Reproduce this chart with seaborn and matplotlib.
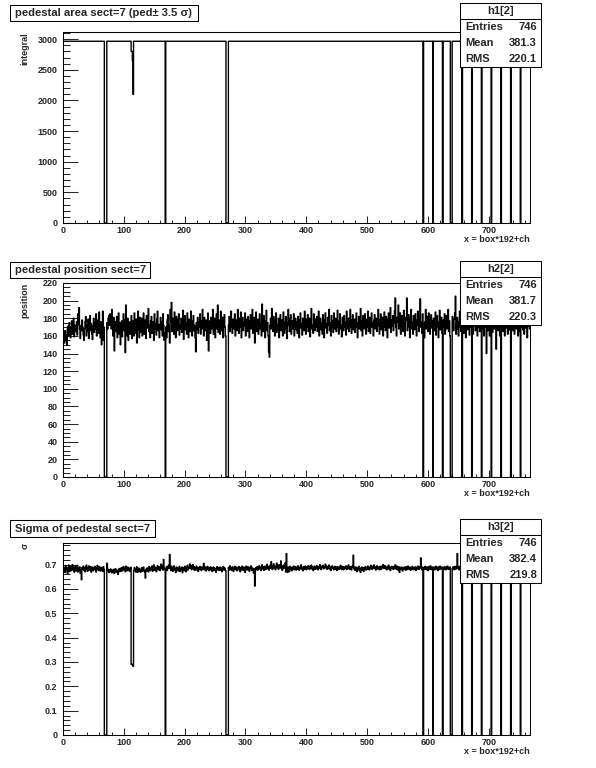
import matplotlib
matplotlib.use("Agg")
import matplotlib.pyplot as plt
from matplotlib.patches import Rectangle
from matplotlib.lines import Line2D
from matplotlib.ticker import MultipleLocator, FuncFormatter
import numpy as np
import pandas as pd
import seaborn as sns

# ---- data -------------------------------------------------------------
n_bins = 768
dead_bins = [68, 69, 70, 71, 168, 268, 269, 270, 271, 592, 608, 624,
             637, 638, 639, 656, 672, 688, 704, 720, 736, 752]

# integral: flat level, with a dip at channels 112-115
area_level = 2967
area_dip_bins = [112, 113, 114, 115]
area_dip_vals = [2800, 2800, 2650, 2100]

position = [
    158,163,152,166,155,161,150,168,171,160,175,164,158,170,177,162,
    168,180,159,172,165,170,176,161,185,173,192,168,157,172,166,178,
    170,161,155,168,176,182,160,172,165,179,157,170,183,166,174,162,
    156,171,180,164,175,168,185,160,172,178,163,187,170,158,176,150,
    165,188,155,170,0,0,0,0,175,168,180,183,172,185,177,168,
    190,174,160,181,143,170,176,165,182,158,171,186,162,175,150,168,
    177,159,173,185,166,178,141,195,172,160,180,155,169,176,162,171,
    183,157,168,177,160,186,174,163,179,152,170,188,167,158,181,164,
    172,180,160,175,186,162,170,178,157,183,169,174,191,165,172,158,
    177,182,163,171,176,155,185,168,174,161,179,188,166,173,158,170,
    181,167,176,160,185,172,155,163,0,170,158,178,184,165,173,152,
    190,176,198,165,180,171,162,187,175,158,182,170,166,179,185,161,
    172,168,180,164,177,189,156,172,183,167,175,162,186,170,158,179,
    174,165,188,171,160,177,183,166,172,158,142,175,168,181,163,176,
    170,185,162,177,168,190,172,160,181,174,166,178,155,172,186,143,
    170,177,163,181,168,175,190,162,172,180,158,174,185,168,195,164,
    178,170,162,188,173,166,181,158,176,184,170,160,0,0,0,0,
    172,182,165,176,188,170,163,179,174,168,185,160,172,178,166,190,
    175,163,180,170,187,158,174,181,166,176,171,186,160,173,179,165,
    182,170,158,177,184,168,172,190,163,176,181,152,170,187,165,174,
    179,162,171,185,168,174,160,196,172,165,183,170,158,177,189,166,
    175,160,142,136,172,180,168,191,174,165,182,170,160,178,186,164,
    173,168,180,158,175,184,166,171,178,160,187,170,163,176,182,168,
    157,175,190,172,165,179,184,162,170,177,168,185,160,174,180,167,
    176,163,182,170,158,178,186,169,174,161,180,172,166,188,175,162,
    179,170,184,165,173,180,159,176,191,168,172,163,185,174,166,179,
    170,182,165,176,188,160,173,180,167,175,162,184,171,158,178,186,
    169,174,163,181,172,190,166,175,160,183,170,177,164,186,173,168,
    180,165,174,189,170,162,177,185,168,172,159,181,175,166,183,170,
    176,161,188,173,168,180,165,174,190,170,163,178,184,167,172,179,
    164,176,186,170,158,175,182,168,174,191,166,177,160,183,172,168,
    185,174,162,179,170,188,165,176,181,163,172,186,170,175,160,178,
    184,168,173,180,165,176,190,171,162,178,185,167,174,181,160,175,
    187,170,166,182,173,158,179,186,169,175,192,164,178,171,183,166,
    175,188,203,170,160,181,176,195,168,174,186,162,177,183,170,165,
    189,174,160,181,178,203,166,175,184,170,158,179,190,168,176,162,
    183,171,167,185,174,160,178,188,172,165,180,202,170,176,163,185,
    0,174,158,176,190,168,182,170,165,186,173,162,178,184,169,177,
    0,180,166,175,187,161,172,183,170,158,176,189,167,174,181,163,
    0,178,170,185,162,176,183,168,172,190,165,177,160,0,0,0,
    182,171,166,179,186,205,162,174,181,168,160,176,188,170,165,178,
    0,172,184,163,176,170,158,181,175,167,186,172,161,178,170,183,
    0,175,162,180,171,185,166,174,188,160,177,170,182,165,173,179,
    0,168,181,172,160,176,185,170,140,178,166,183,172,160,175,180,
    0,172,164,181,176,168,185,171,145,177,182,166,173,179,160,184,
    0,170,178,165,183,172,160,176,186,169,175,162,180,171,167,178,
    0,174,181,166,173,185,162,177,170,168,183,175,160,179,172,165,
    0,178,170,184,167,175,162,180,173,169,185,158,176,171,180,168,
]

sigma = [
    .690,.672,.685,.668,.695,.676,.688,.663,.680,.698,.671,.686,.692,.675,.683,.700,
    .678,.690,.669,.684,.693,.674,.681,.697,.670,.687,.679,.691,.665,.676,.638,.688,
    .682,.694,.676,.687,.671,.690,.698,.680,.673,.688,.695,.677,.684,.692,.669,.681,
    .690,.675,.686,.679,.693,.684,.670,.688,.697,.681,.676,.692,.685,.674,.689,.678,
    .685,.672,.692,.680,0,0,0,0,.706,.683,.675,.668,.679,.671,.682,.674,
    .666,.677,.670,.681,.664,.675,.683,.669,.678,.672,.660,.676,.684,.671,.679,.686,
    .673,.688,.680,.692,.677,.685,.671,.694,.682,.675,.690,.679,.686,.673,.681,.689,
    .290,.289,.291,.282,.676,.688,.679,.670,.684,.691,.668,.677,.686,.673,.681,.669,
    .678,.687,.672,.683,.690,.676,.669,.645,.681,.674,.686,.679,.670,.692,.684,.675,
    .688,.680,.694,.673,.685,.699,.677,.690,.682,.671,.687,.696,.679,.684,.691,.676,
    .689,.702,.683,.695,.678,.721,.688,.680,0,.684,.692,.676,.690,.698,.685,.742,
    .689,.676,.694,.681,.672,.687,.695,.678,.684,.668,.690,.677,.686,.674,.681,.693,
    .672,.684,.679,.690,.667,.682,.688,.675,.693,.680,.671,.686,.697,.678,.684,.690,
    .703,.685,.696,.679,.688,.700,.683,.692,.676,.687,.681,.694,.678,.686,.672,.689,
    .680,.693,.684,.676,.690,.682,.688,.705,.679,.691,.684,.674,.686,.693,.680,.688,
    .675,.684,.691,.679,.687,.672,.683,.690,.677,.686,.681,.669,.684,.692,.678,.688,
    .683,.676,.690,.679,.686,.671,.684,.692,.678,.688,.683,.675,0,0,0,0,
    .689,.678,.695,.683,.687,.676,.691,.681,.672,.686,.693,.679,.684,.690,.675,.687,
    .680,.692,.683,.671,.688,.679,.694,.685,.676,.690,.682,.668,.687,.694,.678,.685,
    .691,.680,.673,.689,.684,.695,.676,.686,.679,.666,.683,.612,.674,.688,.681,.692,
    .678,.687,.695,.683,.690,.676,.688,.699,.682,.691,.677,.686,.694,.680,.689,.701,
    .684,.693,.678,.690,.697,.685,.712,.688,.680,.694,.703,.686,.691,.679,.695,.706,
    .687,.698,.681,.692,.700,.686,.715,.690,.677,.695,.684,.699,.688,.706,.670,.745,
    .676,.668,.690,.684,.672,.693,.681,.687,.675,.690,.683,.694,.679,.686,.692,.678,
    .688,.681,.695,.686,.677,.690,.684,.699,.682,.688,.675,.692,.686,.681,.694,.687,
    .679,.691,.684,.696,.688,.680,.693,.685,.698,.682,.690,.676,.687,.694,.681,.689,
    .683,.696,.688,.679,.692,.685,.700,.687,.680,.694,.689,.697,.683,.690,.686,.702,
    .688,.694,.681,.690,.685,.698,.682,.691,.676,.688,.695,.684,.690,.679,.687,.693,
    .681,.689,.676,.692,.685,.681,.690,.683,.697,.686,.680,.693,.688,.679,.691,.684,
    .687,.695,.680,.690,.684,.699,.686,.681,.692,.688,.678,.694,.690,.739,.683,.689,
    .676,.690,.684,.671,.687,.680,.693,.675,.686,.668,.681,.690,.677,.685,.672,.688,
    .683,.692,.678,.687,.681,.694,.685,.679,.690,.683,.697,.688,.681,.693,.686,.699,
    .684,.691,.678,.688,.695,.682,.690,.686,.679,.693,.687,.681,.694,.688,.700,.685,
    .690,.696,.683,.689,.679,.692,.686,.698,.681,.690,.676,.687,.693,.684,.689,.680,
    .692,.685,.699,.688,.681,.694,.687,.676,.691,.668,.685,.680,.690,.683,.674,.688,
    .681,.690,.685,.677,.692,.686,.680,.694,.688,.682,.690,.676,.687,.681,.693,.685,
    .679,.688,.683,.691,.676,.687,.682,.694,.685,.680,.692,.688,.728,.684,.679,.690,
    0,.686,.681,.693,.688,.679,.690,.684,.676,.692,.687,.681,.695,.686,.680,.690,
    0,.684,.690,.679,.687,.693,.682,.688,.676,.691,.685,.680,.694,.687,.683,.690,
    0,.688,.680,.692,.685,.679,.690,.686,.694,.681,.688,.683,.690,0,0,0,
    .684,.691,.686,.679,.693,.688,.682,.690,.745,.685,.692,.679,.688,.694,.686,.681,
    0,.690,.684,.693,.687,.680,.692,.686,.679,.691,.688,.682,.694,.685,.690,.683,
    0,.687,.692,.680,.689,.684,.693,.686,.679,.690,.685,.692,.681,.688,.694,.686,
    0,.691,.685,.680,.693,.687,.682,.690,.686,.679,.692,.688,.684,.690,.681,.687,
    0,.686,.692,.681,.688,.694,.683,.689,.685,.680,.691,.687,.693,.682,.688,.690,
    0,.689,.683,.692,.686,.680,.694,.687,.681,.690,.685,.693,.688,.682,.690,.686,
    0,.684,.691,.686,.680,.693,.687,.682,.690,.685,.692,.688,.681,.694,.686,.689,
    0,.690,.685,.681,.692,.687,.683,.691,.686,.680,.693,.688,.684,.690,.686,.682,
]

titles = ["pedestal area sect=7 (ped\u00b1 3.5 \u03c3)",
          "pedestal position sect=7",
          "Sigma of pedestal sect=7"]
ylabels = ["integral", "position", "\u03c3"]
hist_names = ["h1[2]", "h2[2]", "h3[2]"]
entries = [746, 746, 746]
means = [381.3, 381.7, 382.4]
rms = [220.1, 220.3, 219.8]
xlabel = "x = box*192+ch"

# ---- build arrays -------------------------------------------------------
area = np.full(n_bins, float(area_level))
area[area_dip_bins] = area_dip_vals
area[dead_bins] = 0
pos = np.array(position, dtype=float)
pos[dead_bins] = 0
sig = np.array(sigma, dtype=float)
sig[dead_bins] = 0

df = pd.DataFrame({"ch": np.arange(n_bins) + 0.5, "area": area,
                   "pos": pos, "sig": sig})
columns = ["area", "pos", "sig"]

# ---- style -------------------------------------------------------------
sns.set_style("ticks")
plt.rcParams["font.family"] = ["Liberation Sans", "DejaVu Sans"]
plt.rcParams["font.weight"] = "bold"

W, H = 596, 768
fig = plt.figure(figsize=(W / 100, H / 100), dpi=100)
fig.patch.set_facecolor("white")


def fx(x):
    return x / W


def fy(y):
    return 1 - y / H


ax_left, ax_right = 63, 530
ax_rows = [(32, 223), (283, 477), (543, 735)]
ymaxes = [3118, 220, 0.789]
ymajor = [500, 20, 0.1]
yminor = [100, 5, 0.02]
title_boxes = [(10, 5, 198, 21), (10, 262, 150, 278), (10, 520, 155, 537)]
stat_tops = [3, 261, 519]
stat_left, stat_right, stat_row = 460, 541, 16


def fmt(v, _):
    v = round(v, 3)
    return "0" if v == 0 else f"{v:g}"


for i in range(3):
    top, bot = ax_rows[i]
    ax = fig.add_axes([fx(ax_left), fy(bot), (ax_right - ax_left) / W, (bot - top) / H])
    sns.histplot(data=df, x="ch", weights=columns[i], bins=n_bins,
                 binrange=(0, n_bins), element="step", fill=False,
                 color="black", linewidth=1.0, ax=ax)
    ax.set_xlim(0, n_bins)
    ax.set_ylim(0, ymaxes[i])
    ax.set_xlabel("")
    ax.set_ylabel("")
    ax.xaxis.set_major_locator(MultipleLocator(100))
    ax.xaxis.set_minor_locator(MultipleLocator(20))
    ax.yaxis.set_major_locator(MultipleLocator(ymajor[i]))
    ax.yaxis.set_minor_locator(MultipleLocator(yminor[i]))
    ax.xaxis.set_major_formatter(FuncFormatter(fmt))
    ax.yaxis.set_major_formatter(FuncFormatter(fmt))
    ax.tick_params(axis="x", which="major", direction="in", length=5, width=0.75,
                   labelsize=6.5, pad=2.5)
    ax.tick_params(axis="x", which="minor", direction="in", length=2.5, width=0.75)
    ax.tick_params(axis="y", which="major", direction="in", length=10.5, width=0.75,
                   labelsize=6.5, pad=4)
    ax.tick_params(axis="y", which="minor", direction="in", length=5, width=0.75)
    for s in ax.spines.values():
        s.set_visible(True)
        s.set_linewidth(0.75)
        s.set_color("black")

    # y label, top-aligned at the frame
    fig.text(fx(25), fy(top), ylabels[i], rotation=90, ha="center", va="top",
             fontsize=6.5, fontweight="bold")
    # x label, right-aligned under the axis
    fig.text(fx(ax_right), fy(bot + 16), xlabel, ha="right", va="center",
             fontsize=6.5, fontweight="bold")

    # title box
    x0, y0, x1, y1 = title_boxes[i]
    fig.add_artist(Rectangle((fx(x0), fy(y1)), (x1 - x0) / W, (y1 - y0) / H,
                             transform=fig.transFigure, facecolor="white",
                             edgecolor="black", linewidth=0.75))
    fig.text(fx(x0 + 5), fy((y0 + y1) / 2), titles[i], ha="left", va="center",
             fontsize=8.1, fontweight="bold")

    # stats box
    st = stat_tops[i]
    fig.add_artist(Rectangle((fx(stat_left), fy(st + 4 * stat_row)),
                             (stat_right - stat_left) / W, 4 * stat_row / H,
                             transform=fig.transFigure, facecolor="white",
                             edgecolor="black", linewidth=0.75, zorder=5))
    fig.add_artist(Line2D([fx(stat_left), fx(stat_right)],
                          [fy(st + stat_row), fy(st + stat_row)],
                          transform=fig.transFigure, color="black",
                          linewidth=0.75, zorder=6))
    fig.text(fx((stat_left + stat_right) / 2), fy(st + stat_row / 2), hist_names[i],
             ha="center", va="center", fontsize=8, fontweight="bold", zorder=7)
    rows = [("Entries", f"{entries[i]}"), ("Mean", f"{means[i]:.1f}"),
            ("RMS", f"{rms[i]:.1f}")]
    for k, (lab, val) in enumerate(rows):
        yc = fy(st + stat_row * (k + 1.5))
        fig.text(fx(stat_left + 5), yc, lab, ha="left", va="center",
                 fontsize=8, fontweight="bold", zorder=7)
        fig.text(fx(stat_right - 4), yc, val, ha="right", va="center",
                 fontsize=8, fontweight="bold", zorder=7)

fig.savefig("out.png", dpi=100, facecolor="white")
